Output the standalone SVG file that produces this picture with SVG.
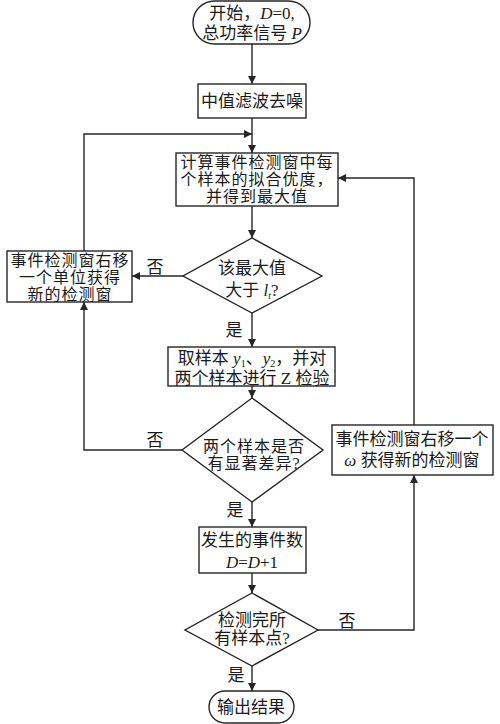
<svg xmlns="http://www.w3.org/2000/svg" width="500" height="724" viewBox="0 0 500 724">
<style>
.s{fill:#fff;stroke:#262626;stroke-width:1.4}
.c{fill:none;stroke:#262626;stroke-width:1.4}
text{font-family:"Liberation Serif","Noto Sans CJK SC",serif;font-size:17px;fill:#1a1a1a;text-anchor:middle}
text.t{font-size:16px;letter-spacing:1px}
.i{font-style:italic}
.sub{font-size:10px}
</style>
<defs>
<marker id="a" viewBox="0 0 10 10" refX="10" refY="5" markerWidth="8" markerHeight="8" markerUnits="userSpaceOnUse" orient="auto">
<path d="M0,0 L10,5 L0,10 z" fill="#262626"/>
</marker>
</defs>
<g id="connectors">
<line class="c" x1="252" y1="44" x2="252" y2="84" marker-end="url(#a)"/>
<line class="c" x1="252" y1="118" x2="252" y2="153" marker-end="url(#a)"/>
<polyline class="c" points="84,251 84,134 252,134" marker-end="url(#a)"/>
<line class="c" x1="252" y1="206" x2="252" y2="238" marker-end="url(#a)"/>
<line class="c" x1="183" y1="276" x2="132" y2="276" marker-end="url(#a)"/>
<line class="c" x1="252" y1="313" x2="252" y2="347" marker-end="url(#a)"/>
<line class="c" x1="252" y1="386" x2="252" y2="398" marker-end="url(#a)"/>
<polyline class="c" points="182,450 84,450 84,302" marker-end="url(#a)"/>
<line class="c" x1="252" y1="502" x2="252" y2="527" marker-end="url(#a)"/>
<line class="c" x1="252" y1="573" x2="252" y2="593" marker-end="url(#a)"/>
<polyline class="c" points="318,630 414,630 414,475" marker-end="url(#a)"/>
<polyline class="c" points="414,425 414,178 338,178" marker-end="url(#a)"/>
<line class="c" x1="252" y1="666" x2="252" y2="691" marker-end="url(#a)"/>
<text x="155" y="273">否</text>
<text x="234" y="336">是</text>
<text x="155" y="446">否</text>
<text x="235" y="516">是</text>
<text x="347" y="627">否</text>
<text x="236" y="681">是</text>
</g>
<g id="start">
<rect class="s" x="193" y="1" width="117" height="43" rx="21.5"/>
<text x="252" y="19">开始，<tspan class="i">D</tspan>=0,</text>
<text x="252" y="39">总功率信号 <tspan class="i">P</tspan></text>
</g>
<g id="denoise">
<rect class="s" x="198" y="84" width="108" height="34"/>
<text x="252" y="107">中值滤波去噪</text>
</g>
<g id="compute">
<rect class="s" x="176" y="153" width="162" height="53"/>
<text class="t" x="257" y="168">计算事件检测窗中每</text>
<text class="t" x="257" y="185">个样本的拟合优度，</text>
<text class="t" x="257" y="202">并得到最大值</text>
</g>
<g id="decision1">
<polygon class="s" points="252,238 322,276 252,313 183,276"/>
<text x="252" y="274">该最大值</text>
<text x="252" y="296">大于 <tspan class="i">l</tspan><tspan class="i sub" dy="3">t</tspan><tspan dy="-3">?</tspan></text>
</g>
<g id="shift1">
<rect class="s" x="7" y="251" width="125" height="51"/>
<text class="t" x="70" y="266">事件检测窗右移</text>
<text class="t" x="70" y="283">一个单位获得</text>
<text class="t" x="70" y="300">新的检测窗</text>
</g>
<g id="sample">
<rect class="s" x="168" y="347" width="167" height="39"/>
<text x="252" y="364">取样本 <tspan class="i">y</tspan><tspan class="sub" dy="3">1</tspan><tspan dy="-3">、</tspan><tspan class="i">y</tspan><tspan class="sub" dy="3">2</tspan><tspan dy="-3">，并对</tspan></text>
<text x="252" y="384">两个样本进行 Z 检验</text>
</g>
<g id="decision2">
<polygon class="s" points="252,398 323,450 252,502 182,450"/>
<text class="t" x="254" y="452">两个样本是否</text>
<text class="t" x="254" y="469">有显著差异?</text>
</g>
<g id="shift2">
<rect class="s" x="332" y="425" width="161" height="50"/>
<text x="412" y="445">事件检测窗右移一个</text>
<text x="412" y="466"><tspan class="i">ω</tspan> 获得新的检测窗</text>
</g>
<g id="count">
<rect class="s" x="199" y="527" width="107" height="46"/>
<text x="252" y="546">发生的事件数</text>
<text x="252" y="568"><tspan class="i">D</tspan>=<tspan class="i">D</tspan>+1</text>
</g>
<g id="decision3">
<polygon class="s" points="252,593 318,630 252,666 185,630"/>
<text x="252" y="626">检测完所</text>
<text x="252" y="644">有样本点?</text>
</g>
<g id="end">
<rect class="s" x="209" y="691" width="85" height="32" rx="16"/>
<text x="251" y="713">输出结果</text>
</g>
</svg>
